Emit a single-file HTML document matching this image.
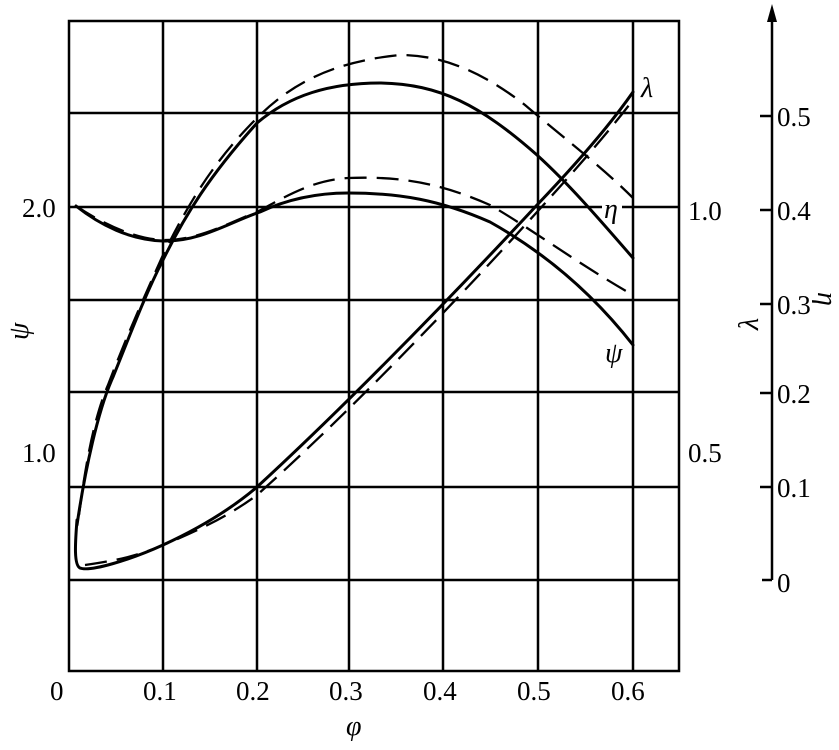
<!DOCTYPE html>
<html><head><meta charset="utf-8"><style>
html,body{margin:0;padding:0;background:#fff;}
svg{display:block;}
text{font-family:"Liberation Serif",serif;fill:#000;}
</style></head><body>
<svg width="839" height="750" viewBox="0 0 839 750" xmlns="http://www.w3.org/2000/svg">
<g stroke="#000" stroke-width="2.5" fill="none">
<rect x="69" y="21" width="610" height="650"/>
<line x1="163" y1="21" x2="163" y2="671"/>
<line x1="257" y1="21" x2="257" y2="671"/>
<line x1="349" y1="21" x2="349" y2="671"/>
<line x1="443" y1="21" x2="443" y2="671"/>
<line x1="538" y1="21" x2="538" y2="671"/>
<line x1="633" y1="21" x2="633" y2="671"/>
<line x1="69" y1="113" x2="679" y2="113"/>
<line x1="69" y1="207" x2="679" y2="207"/>
<line x1="69" y1="300" x2="679" y2="300"/>
<line x1="69" y1="392" x2="679" y2="392"/>
<line x1="69" y1="487" x2="679" y2="487"/>
<line x1="69" y1="580" x2="679" y2="580"/>
<line x1="772" y1="14" x2="772" y2="580"/>
<line x1="760" y1="116" x2="772" y2="116"/>
<line x1="760" y1="210" x2="772" y2="210"/>
<line x1="760" y1="304" x2="772" y2="304"/>
<line x1="760" y1="393" x2="772" y2="393"/>
<line x1="760" y1="487" x2="772" y2="487"/>
<line x1="762" y1="580" x2="772" y2="580"/>
</g>
<polygon points="772,4 767,22 777,22" fill="#000"/>
<g stroke="#000" stroke-width="3" fill="none" stroke-linecap="round">
<path d="M77,525 C85,470 98,410 113,377 C130,335 145,295 163,260 C185,215 210,175 257,123 C290,95 330,83 380,83 C440,84 480,105 537,155 C570,185 600,220 633,258"/>
<path d="M76,206 C100,225 130,240 163,241 C200,242 230,222 260,212 C290,198 320,193 348,193 C400,193 440,200 490,222 C540,250 590,290 633,345"/>
<path d="M77,520 C75,545 74,565 80,568 C90,572 130,560 163,545 C200,528 230,510 257,487 C330,420 430,320 537,205 C580,160 610,125 633,92"/>
</g>
<g stroke="#000" stroke-width="2.3" fill="none" stroke-dasharray="22,10">
<path d="M79,515 C86,460 95,415 108,385 C125,340 145,295 163,255 C190,200 215,160 257,118 C290,85 330,62 400,55 C440,55 480,70 525,105 C560,135 600,165 633,198"/>
<path d="M76,206 C100,222 135,240 165,240 C200,240 230,222 257,212 C280,200 310,180 348,178 C400,176 440,183 490,205 C530,228 580,265 633,295"/>
<path d="M85,565 C120,560 140,555 163,545 C200,530 230,515 257,495 C330,430 430,330 537,212 C580,165 610,130 633,100"/>
</g>
<g font-size="27">
<text x="22" y="217">2.0</text>
<text x="22" y="462">1.0</text>
<text x="688" y="220">1.0</text>
<text x="688" y="462">0.5</text>
<text x="777" y="126">0.5</text>
<text x="777" y="220">0.4</text>
<text x="777" y="314">0.3</text>
<text x="777" y="403">0.2</text>
<text x="777" y="497">0.1</text>
<text x="777" y="592">0</text>
<text x="50" y="700">0</text>
<text x="143" y="700">0.1</text>
<text x="236" y="700">0.2</text>
<text x="329" y="700">0.3</text>
<text x="423" y="700">0.4</text>
<text x="517" y="700">0.5</text>
<text x="611" y="700">0.6</text>
</g>
<g font-size="28" font-style="italic">
<text x="346" y="735">φ</text>
<text transform="translate(28,340) rotate(-90)">ψ</text>
<text transform="translate(758,330) rotate(-90)">λ</text>
<text transform="translate(818,292) rotate(90)">η</text>
<text x="605" y="362">ψ</text>
<text x="641" y="97">λ</text>
<rect x="602" y="196" width="20" height="24" fill="#fff"/>
<text x="604" y="218">η</text>
</g>
</svg>
</body></html>
